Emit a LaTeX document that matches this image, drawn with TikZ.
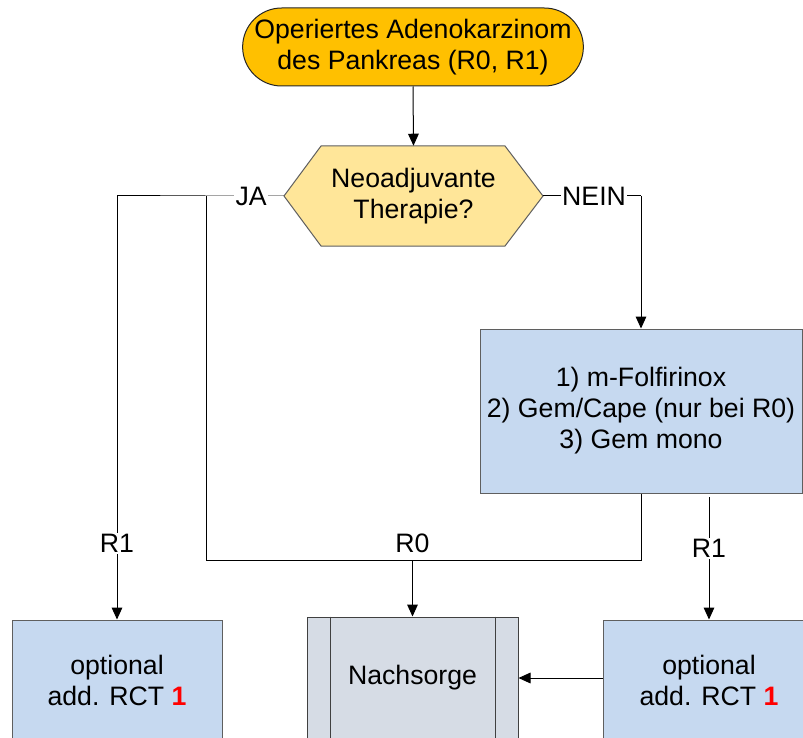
\documentclass[tikz,border=0pt]{standalone}
\usepackage{fontspec}
\setmainfont{Liberation Sans}
\usetikzlibrary{arrows.meta,shapes.misc}
\definecolor{termfill}{HTML}{FFC000}
\definecolor{hexfill}{HTML}{FFE699}
\definecolor{boxfill}{HTML}{C6D9F0}
\definecolor{nachfill}{HTML}{D6DCE5}
\definecolor{bordergray}{HTML}{5F5F5F}
\tikzset{
  every node/.style={font=\fontsize{20}{23.25}\selectfont, text=black},
  conn/.style={draw=black, line width=0.75pt},
  arr/.style={conn, -{Triangle[length=9pt,width=8pt]}},
  terminal/.style={rounded rectangle, draw=black!85, line width=0.75pt, fill=termfill, align=center, inner sep=0pt},
  decisionbg/.style={draw=bordergray, line width=0.75pt, fill=hexfill},
  procbox/.style={rectangle, draw=bordergray, line width=0.75pt, fill=boxfill, align=center, inner sep=0pt},
  subproc/.style={rectangle, draw=black!75, line width=0.75pt, fill=nachfill, align=center, inner sep=0pt},
  lbl/.style={fill=white, inner sep=1pt}
}
\begin{document}
\begin{tikzpicture}[x=0.75pt,y=-0.75pt]
\useasboundingbox (0,0) rectangle (803,738);
\clip (0,0) rectangle (803,738);
\fill[white] (0,0) rectangle (803,738);

% start terminal
\node[terminal, minimum width=252.75pt, minimum height=58.5pt] (start) at (413,47)
  {Operiertes Adenokarzinom\\des Pankreas (R0, R1)};

% decision hexagon
\draw[decisionbg] (284,196) -- (321,146) -- (505,146) -- (543,196) -- (505,246) -- (321,246) -- cycle;
\node[minimum width=194.25pt, minimum height=75pt, inner sep=0pt, align=center] (hex) at (413.5,196)
  {Neoadjuvante\\Therapie?};

% chemo box
\node[procbox, minimum width=241.5pt, minimum height=123pt] (chemo) at (641,411)
  {1) m-Folfirinox\\2) Gem/Cape (nur bei R0)\\3) Gem mono};

% bottom boxes
\node[procbox, minimum width=157.5pt, minimum height=90pt] (lbox) at (117,680)
  {optional\\add. RCT \textcolor{red}{\textbf{1}}};
\node[subproc, minimum width=158.25pt, minimum height=91.5pt] (nach) at (412.5,678)
  {Nachsorge};
\draw[draw=black!75, line width=0.75pt] ([xshift=18pt]nach.north west) -- ([xshift=18pt]nach.south west);
\draw[draw=black!75, line width=0.75pt] ([xshift=-17.25pt]nach.north east) -- ([xshift=-17.25pt]nach.south east);
\node[procbox, minimum width=159pt, minimum height=90pt] (rbox) at (709,680)
  {optional\\add. RCT \textcolor{red}{\textbf{1}}};

% coordinates
\coordinate (jLeft) at (117,196);
\coordinate (jMid) at (206,196);
\coordinate (jRight) at (641,196);
\coordinate (loopA) at (641,560);
\coordinate (loopB) at (206,560);
\coordinate (loopC) at (412.5,560);
\coordinate (r1start) at (709,497);

% connectors
\draw[arr] (start.south) -- (hex.north);
\draw[conn] (hex.west) -- node[lbl, pos=0.42] {JA} (jMid) -- (jLeft);
\draw[arr] (jLeft) -- node[lbl, pos=0.82] {R1} (lbox.north);
\draw[conn] (chemo.south) -- (loopA) -- (loopB) -- (jMid);
\node at (412.5,543) (r0lbl) {R0};
\draw[arr] (loopC) -- (nach.north);
\draw[conn] (hex.east) -- node[lbl, pos=0.52] {NEIN} (jRight);
\draw[arr] (jRight) -- (chemo.north);
\draw[arr] (r1start) -- node[lbl, pos=0.42] {R1} (rbox.north);
\draw[arr] (nach.east -| rbox.west) -- (nach.east);
\end{tikzpicture}
\end{document}
